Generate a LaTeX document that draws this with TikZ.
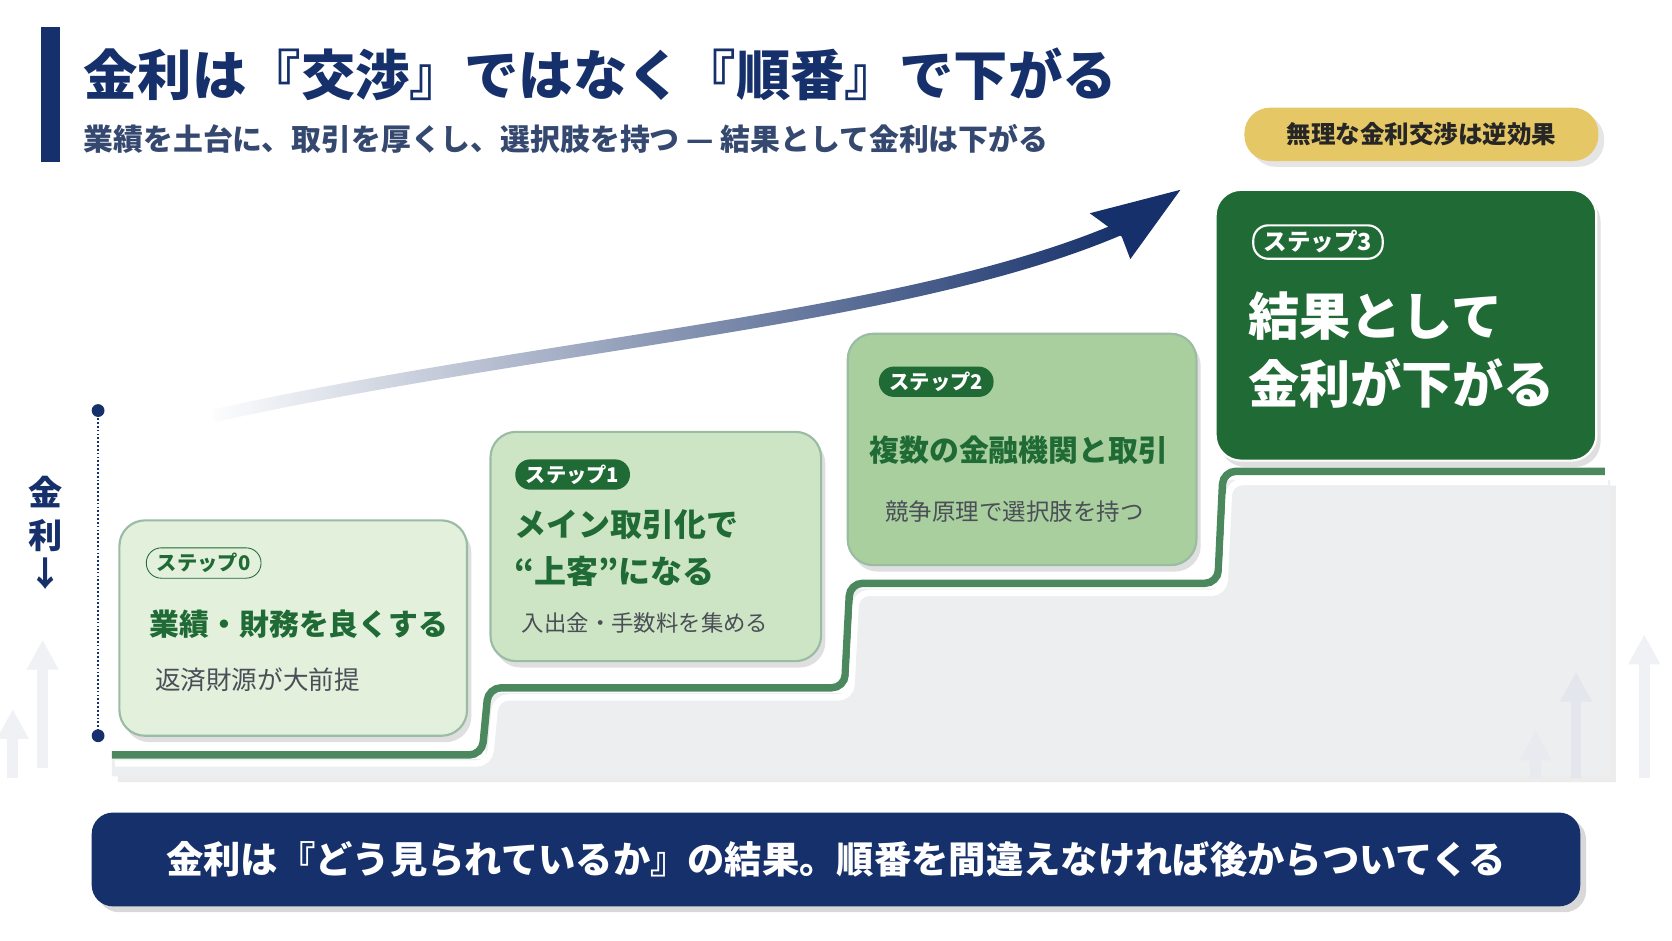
\documentclass[tikz,border=0pt]{standalone}
\usepackage{fontspec}
\setmainfont{Noto Sans CJK JP}
\usetikzlibrary{positioning,shadows,fadings}
\definecolor{navy}{HTML}{15306A}
\definecolor{darkgreen}{HTML}{1F6A35}
\definecolor{midgreen}{HTML}{A9CF9E}
\definecolor{palegreen}{HTML}{E2F0DC}
\definecolor{lightgreen}{HTML}{CDE5C4}
\definecolor{gold}{HTML}{E6C765}
\definecolor{stair}{HTML}{EDEEEF}
\definecolor{subgray}{HTML}{4A4F57}
\tikzset{
  card/.style={draw=darkgreen!45, line width=1pt, rounded corners=12pt, drop shadow={opacity=.25, shadow xshift=2pt, shadow yshift=-3pt}},
  badge/.style={rounded corners=7pt, inner xsep=5pt, inner ysep=2.5pt, font=\bfseries\fontsize{9.5}{11}\selectfont},
  head/.style={anchor=west, inner sep=0pt, text=darkgreen, font=\bfseries\fontsize{14}{17}\selectfont, align=left},
  sub/.style={anchor=west, inner sep=0pt, text=subgray, font=\fontsize{11}{13}\selectfont},
  ghost/.style={line width=5pt, draw=navy!7, -{Triangle[width=14pt,length=14pt]}},
}
\usetikzlibrary{arrows.meta}
\begin{document}
\begin{tikzpicture}[x=0.5pt, y=-0.5pt]
  \useasboundingbox[fill=white] (0,0) rectangle (1568,882);
  % header
  \fill[navy] (38,25) rectangle (56,152);
  \node[anchor=west, inner sep=0pt, text=navy, font=\bfseries\fontsize{25.5}{30}\selectfont] (title) at (78,70) {金利は『交渉』ではなく『順番』で下がる};
  \node[anchor=west, inner sep=0pt, text=navy!70!gray, font=\bfseries\fontsize{14}{17}\selectfont] (subtitle) at (78,130) {業績を土台に、取引を厚くし、選択肢を持つ — 結果として金利は下がる};
  \node[fill=gold, rounded corners=12pt, minimum width=166pt, minimum height=25pt, font=\bfseries\fontsize{11.5}{14}\selectfont, text=black!85, drop shadow={opacity=.2}] (warn) at (1333,126) {無理な金利交渉は逆効果};
  % rising arrow
  \draw[line width=6pt, draw=navy, path fading=west] (200,390) .. controls (520,320) and (850,300) .. (1050,215);
  \fill[navy] (1107,178) -- (1060,243) -- (1052,222) -- (1022,200) -- cycle;
  % axis
  \coordinate (ytop) at (92,385);
  \coordinate (ybot) at (92,690);
  \draw[navy, densely dotted, line width=0.8pt] (ytop) -- (ybot);
  \fill[navy] (ytop) circle (3pt) (ybot) circle (3pt);
  \node[text=navy, font=\bfseries\fontsize{16}{20}\selectfont, align=center] (axis) at (43,500) {金\\利\\[-2pt]↓};
  % stairs
  \fill[stair, drop shadow={opacity=.15}] (105,728) -- (105,712) -- (455,712) -- (460,650) -- (795,650) -- (800,552) -- (1145,552) -- (1150,450) -- (1510,450) -- (1510,728) -- cycle;
  \draw[darkgreen!80, line width=3.5pt, rounded corners=6pt] (105,708) -- (452,708) -- (458,645) -- (792,645) -- (797,547) -- (1142,547) -- (1147,442) -- (1505,442);
  \draw[white, line width=3pt, rounded corners=6pt] (108,716) -- (459,716) -- (465,654) -- (798,654) -- (803,556) -- (1148,556) -- (1153,452) -- (1508,452);
  % faint background arrows
  \draw[ghost] (40,720) -- (40,600);
  \draw[ghost] (12,730) -- (12,665);
  \draw[ghost, draw=navy!12] (1478,730) -- (1478,630);
  \draw[ghost, draw=navy!10] (1440,730) -- (1440,685);
  \draw[ghost] (1542,730) -- (1542,595);
  % cards
  \filldraw[card, fill=palegreen] (112,488) rectangle (438,690);
  \filldraw[card, fill=lightgreen] (460,405) rectangle (770,620);
  \filldraw[card, fill=midgreen] (795,313) rectangle (1122,530);
  \filldraw[card, fill=darkgreen, draw=white] (1140,178) rectangle (1497,432);
  % step 0
  \node[badge, draw=darkgreen, fill=palegreen, text=darkgreen] (b0) at (191,528) {ステップ0};
  \node[head] (h0) at (140,585) {業績・財務を良くする};
  \node[sub, font=\fontsize{12}{14}\selectfont] (s0) at (145,638) {返済財源が大前提};
  % step 1
  \node[badge, fill=darkgreen, text=white] (b1) at (537,445) {ステップ1};
  \node[head, font=\bfseries\fontsize{15}{22}\selectfont] (h1) at (482,514) {メイン取引化で\\“上客”になる};
  \node[sub, font=\fontsize{10.5}{13}\selectfont] (s1) at (489,584) {入出金・手数料を集める};
  % step 2
  \node[badge, fill=darkgreen, text=white] (b2) at (878,358) {ステップ2};
  \node[head] (h2) at (815,422) {複数の金融機関と取引};
  \node[sub] (s2) at (830,480) {競争原理で選択肢を持つ};
  % step 3
  \node[badge, draw=white, line width=1pt, fill=darkgreen, text=white, font=\bfseries\fontsize{11}{13}\selectfont] (b3) at (1236,227) {ステップ3};
  \node[head, text=white, font=\bfseries\fontsize{24}{32}\selectfont] (h3) at (1170,328) {結果として\\金利が下がる};
  % bottom banner
  \node[fill=navy, rounded corners=10pt, minimum width=698pt, minimum height=44pt, text=white, font=\bfseries\fontsize{17.5}{21}\selectfont, drop shadow={opacity=.3}] (banner) at (784,806) {金利は『どう見られているか』の結果。順番を間違えなければ後からついてくる};
\end{tikzpicture}
\end{document}
